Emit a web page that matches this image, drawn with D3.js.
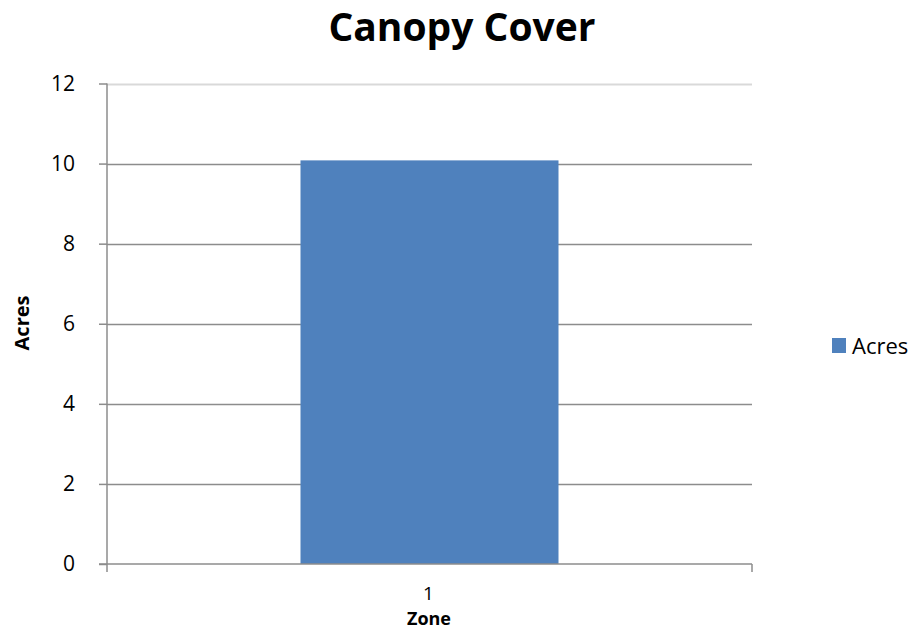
<!DOCTYPE html>
<html><head><meta charset="utf-8">
<script src="https://cdn.jsdelivr.net/npm/d3@7"></script>
<style>body{margin:0;background:#fff}svg{display:block}text{font-family:"Open Sans","Liberation Sans",sans-serif}</style>
</head><body>
<svg id="c" width="918" height="630"></svg>
<script>
const categories = ["1"];
const seriesName = "Acres";
const values = [10.08];
const yTicks = [0, 2, 4, 6, 8, 10, 12];
const title = "Canopy Cover";
const xTitle = "Zone";
const yTitle = "Acres";

const svg = d3.select("#c");
const m = {left:107, right:752, top:83.5, bottom:564};
const x = d3.scaleBand().domain(categories).range([m.left, m.right]).paddingInner(0).paddingOuter(0);
const y = d3.scaleLinear().domain([0, 12]).range([m.bottom, m.top]);
const barW = x.bandwidth() / 2.5;

// gridlines
svg.append("g").selectAll("line").data(yTicks.filter(d => d > 0)).join("line")
  .attr("x1", m.left).attr("x2", m.right)
  .attr("y1", d => Math.round(y(d)) + 0.5).attr("y2", d => Math.round(y(d)) + 0.5)
  .attr("stroke", d => d === 12 ? "#d9d9d9" : "#8c8c8c").attr("stroke-width", d => d === 12 ? 2 : 1.5);

// bars
svg.append("g").selectAll("rect").data(values).join("rect")
  .attr("x", (d, i) => x(categories[i]) + (x.bandwidth() - barW) / 2)
  .attr("width", barW)
  .attr("y", d => y(d)).attr("height", d => y(0) - y(d))
  .attr("fill", "#4f81bd");

// y axis
const ya = svg.append("g").attr("transform", `translate(${m.left},0)`)
  .call(d3.axisLeft(y).tickValues(yTicks).tickSize(8).tickPadding(24));
ya.select(".domain").attr("stroke", "#8c8c8c").attr("stroke-width", 1.5).attr("d", `M0,${m.top}V${m.bottom}`);
ya.selectAll(".tick line").attr("stroke", "#8c8c8c").attr("stroke-width", 1.5);
ya.selectAll(".tick text").attr("font-size", 21).attr("fill", "#000").attr("font-family", "Open Sans");

// x axis
const xa = svg.append("g").attr("transform", `translate(0,${m.bottom})`);
xa.append("line").attr("x1", m.left - 8).attr("x2", m.right).attr("y1", 0).attr("y2", 0)
  .attr("stroke", "#8c8c8c").attr("stroke-width", 1.5);
[m.left, m.right].forEach(px => xa.append("line").attr("x1", px).attr("x2", px).attr("y1", 0).attr("y2", 8)
  .attr("stroke", "#8c8c8c").attr("stroke-width", 1.5));
xa.selectAll("text.cat").data(categories).join("text").attr("class", "cat")
  .attr("x", d => x(d) + x.bandwidth() / 2 - 1).attr("y", 36)
  .attr("text-anchor", "middle").attr("font-size", 19).text(d => d);

// titles
svg.append("text").attr("x", 462).attr("y", 41).attr("text-anchor", "middle")
  .attr("font-size", 39).attr("font-weight", "bold").text(title);
svg.append("text").attr("x", 429).attr("y", 625).attr("text-anchor", "middle")
  .attr("font-size", 18).attr("font-weight", "bold").text(xTitle);
svg.append("text").attr("transform", "translate(29,323) rotate(-90)").attr("text-anchor", "middle")
  .attr("font-size", 20).attr("font-weight", "bold").text(yTitle);

// legend
const lg = svg.append("g").attr("transform", "translate(832,338)");
lg.append("rect").attr("width", 14).attr("height", 15).attr("fill", "#4f81bd");
lg.append("text").attr("x", 20).attr("y", 16).attr("font-size", 22).text(seriesName);
</script>
</body></html>
